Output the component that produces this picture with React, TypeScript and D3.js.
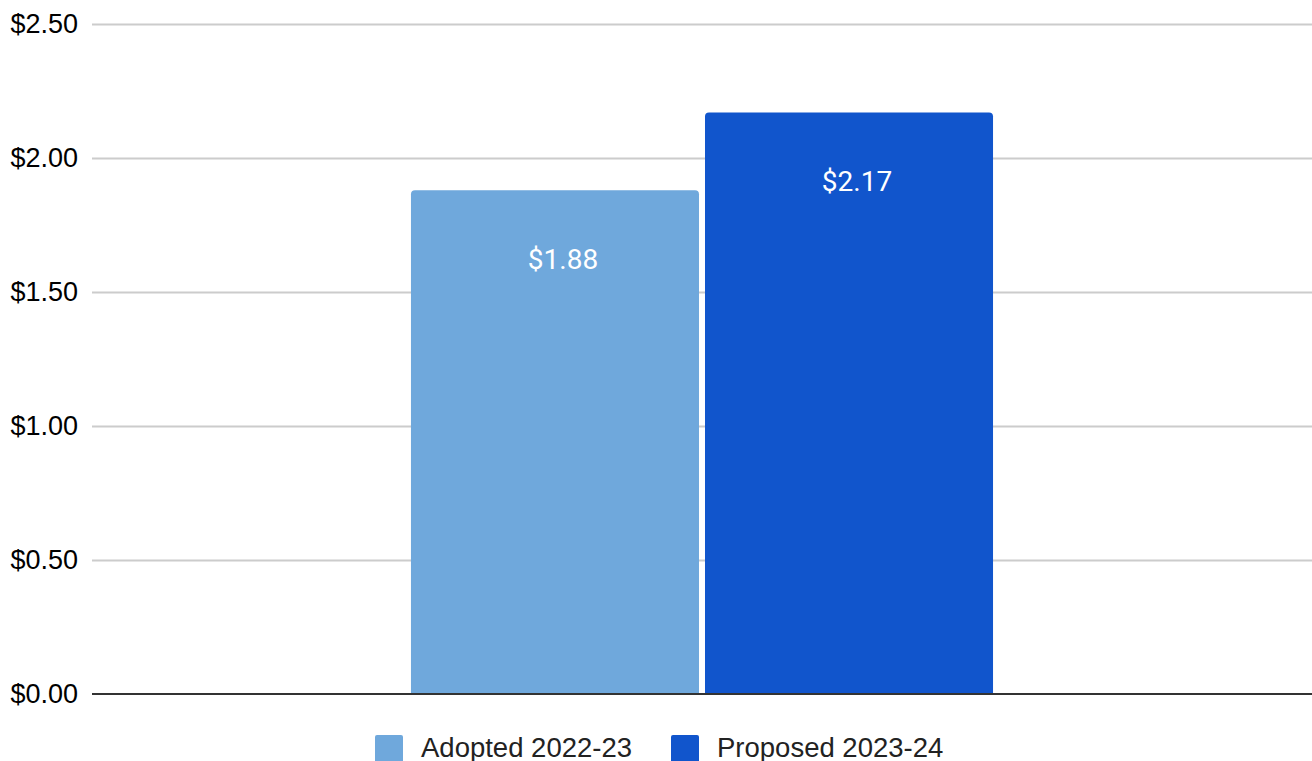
import { useEffect, useRef } from "react";
import * as d3 from "d3";

const categories = ["Total"];
const seriesNames = ["Adopted 2022-23", "Proposed 2023-24"];
const seriesValues = [[1.88], [2.17]];
const seriesColors = ["#6fa8dc", "#1155cc"];
const yTicks = [0, 0.5, 1, 1.5, 2, 2.5];

const W = 1312;
const H = 761;

export default function App() {
  const svgRef = useRef<SVGSVGElement | null>(null);

  useEffect(() => {
    if (!svgRef.current) return;
    const svg = d3.select(svgRef.current);
    svg.selectAll("*").remove();

    const left = 92;
    const right = 1312;
    const y = d3.scaleLinear().domain([0, 2.5]).range([694, 24]);

    const x0 = d3
      .scaleBand<string>()
      .domain(categories)
      .range([left, right])
      .paddingInner(0)
      .paddingOuter(0.548);

    const x1 = d3
      .scaleBand<string>()
      .domain(seriesNames)
      .range([0, x0.bandwidth()])
      .paddingInner(0.0204)
      .paddingOuter(0);

    // gridlines
    svg
      .append("g")
      .selectAll("line")
      .data(yTicks.filter((t) => t > 0))
      .join("line")
      .attr("x1", left)
      .attr("x2", right)
      .attr("y1", (d) => Math.round(y(d)) + 0.5)
      .attr("y2", (d) => Math.round(y(d)) + 0.5)
      .attr("stroke", "#cccccc")
      .attr("stroke-width", 2);

    // y labels
    svg
      .append("g")
      .selectAll("text")
      .data(yTicks)
      .join("text")
      .attr("x", 78)
      .attr("y", (d) => y(d))
      .attr("dy", "0.35em")
      .attr("text-anchor", "end")
      .style("font-family", "'Liberation Sans', Arial, sans-serif")
      .style("font-size", "27px")
      .style("fill", "#000")
      .text((d) => `$${d.toFixed(2)}`);

    // bars
    const r = 4;
    categories.forEach((cat, ci) => {
      seriesNames.forEach((s, si) => {
        const v = seriesValues[si][ci];
        const bx = (x0(cat) ?? 0) + (x1(s) ?? 0);
        const bw = x1.bandwidth();
        const top = y(v);
        const bottom = y(0);
        const p = d3.path();
        p.moveTo(bx, bottom);
        p.lineTo(bx, top + r);
        p.arcTo(bx, top, bx + r, top, r);
        p.lineTo(bx + bw - r, top);
        p.arcTo(bx + bw, top, bx + bw, top + r, r);
        p.lineTo(bx + bw, bottom);
        p.closePath();
        svg.append("path").attr("d", p.toString()).attr("fill", seriesColors[si]);

        svg
          .append("text")
          .attr("x", bx + bw / 2 + 8)
          .attr("y", top + 79)
          .attr("text-anchor", "middle")
          .style("font-family", "Roboto, sans-serif")
          .style("font-size", "28px")
          .style("fill", "#ffffff")
          .text(`$${v.toFixed(2)}`);
      });
    });

    // baseline
    svg
      .append("line")
      .attr("x1", left)
      .attr("x2", right)
      .attr("y1", y(0))
      .attr("y2", y(0))
      .attr("stroke", "#333333")
      .attr("stroke-width", 2);

    // legend
    const legendX = [375, 671];
    const lg = svg.append("g");
    seriesNames.forEach((s, i) => {
      lg.append("rect")
        .attr("x", legendX[i])
        .attr("y", 735)
        .attr("width", 28)
        .attr("height", 28)
        .attr("rx", 2)
        .attr("fill", seriesColors[i]);
      lg.append("text")
        .attr("x", legendX[i] + 46)
        .attr("y", 757)
        .style("font-family", "'Liberation Sans', Arial, sans-serif")
        .style("font-size", "27.5px")
        .style("fill", "#222")
        .text(s);
    });
  }, []);

  return (
    <svg
      ref={svgRef}
      width={W}
      height={H}
      style={{ position: "absolute", left: 0, top: 0, background: "#fff" }}
    />
  );
}
